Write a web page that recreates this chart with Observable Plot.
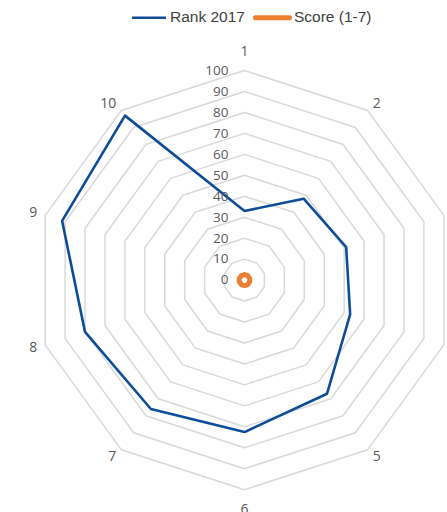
<!DOCTYPE html>
<html>
<head>
<meta charset="utf-8">
<script src="https://cdn.jsdelivr.net/npm/d3@7"></script>
<script src="https://cdn.jsdelivr.net/npm/@observablehq/plot@0.6"></script>
<style>
  html, body { margin: 0; padding: 0; background: #fff; overflow: hidden; }
  #wrap { width: 447px; height: 512px; position: relative; }
  #legend { position: relative; height: 34px; width: 447px; font-family: "Liberation Sans", Arial, sans-serif; font-size: 15.5px; color: #404040; }
  #legend .sw { position: absolute; top: 0; }
  #legend .lbl { position: absolute; top: 8px; line-height: 18px; white-space: nowrap; }
</style>
</head>
<body>
<div id="wrap">
  <div id="legend">
    <svg class="sw" style="left:131px" width="36" height="34"><line x1="1" y1="17.7" x2="35" y2="17.7" stroke="#0d4c97" stroke-width="2.4"/></svg>
    <span class="lbl" style="left:170px">Rank 2017</span>
    <svg class="sw" style="left:252px" width="42" height="34"><line x1="3.5" y1="17.7" x2="37.5" y2="17.7" stroke="#ED7D31" stroke-width="5" stroke-linecap="round"/></svg>
    <span class="lbl" style="left:294px">Score (1-7)</span>
  </div>
  <div id="chart"></div>
</div>
<script>
// ---- data ----
const categories = ["1", "2", "3", "4", "5", "6", "7", "8", "9", "10"];
const rank2017 = [33, 48, 51, 53, 67, 72.5, 76, 80, 91.5, 97];
const score = [2.6, 2.6, 2.6, 2.6, 2.6, 2.6, 2.6, 2.6, 2.6, 2.6];
const ringTicks = [0, 10, 20, 30, 40, 50, 60, 70, 80, 90, 100];
const ringLabels = ["0", "10", "20", "30", "40", "50", "60", "70", "80", "90", "100"];

// ---- layout ----
const W = 447, H = 478;
const cx = 244, cy = 245.6, R = 209.6;
const k = R / 100;
const n = categories.length;
const ang = i => i * 2 * Math.PI / n;
const px = (v, i) => v * Math.sin(ang(i));
const py = (v, i) => v * Math.cos(ang(i));

function closed(values, key) {
  const p = values.map((v, i) => ({i, v, key}));
  p.push({...p[0]});
  return p;
}

const rings = ringTicks.filter(t => t > 0).flatMap(t => closed(categories.map(() => t), t));
const rankPts = closed(rank2017, "rank");
const scorePts = closed(score, "score");
const labelR = 104;
const labelPts = categories.map((c, i) => ({c, i, s: Math.sin(ang(i)), co: Math.cos(ang(i))}));
const lx = d => px(labelR, d.i), ly = d => py(labelR, d.i);
const labelStyle = {x: lx, y: ly, text: "c", fontSize: 14, fill: "#595959"};

const chart = Plot.plot({
  width: W,
  height: H,
  margin: 0,
  x: {domain: [-cx / k, (W - cx) / k], range: [0, W], axis: null},
  y: {domain: [-(H - cy) / k, cy / k], range: [H, 0], axis: null},
  style: {fontFamily: "'Open Sans', sans-serif", background: "transparent", overflow: "hidden"},
  marks: [
    Plot.line(rings, {x: d => px(d.v, d.i), y: d => py(d.v, d.i), z: "key", stroke: "#d9d9d9", strokeWidth: 1.5}),
    Plot.line(rankPts, {x: d => px(d.v, d.i), y: d => py(d.v, d.i), stroke: "#0d4c97", strokeWidth: 2.6, strokeLinejoin: "round"}),
    Plot.line(scorePts, {x: d => px(d.v, d.i), y: d => py(d.v, d.i), stroke: "#ED7D31", strokeWidth: 5, strokeLinejoin: "round"}),
    Plot.text(ringTicks, {x: 0, y: d => d, text: (d, i) => ringLabels[i], dx: -16, textAnchor: "end", fontSize: 13.5, fill: "#595959"}),
    Plot.text(labelPts, {...labelStyle, filter: d => d.s > 0.1, textAnchor: "start"}),
    Plot.text(labelPts, {...labelStyle, filter: d => d.s < -0.1, textAnchor: "end"}),
    Plot.text(labelPts, {...labelStyle, filter: d => Math.abs(d.s) <= 0.1 && d.co > 0, textAnchor: "middle", dy: -11}),
    Plot.text(labelPts, {...labelStyle, filter: d => Math.abs(d.s) <= 0.1 && d.co < 0, textAnchor: "middle", dy: 11})
  ]
});
document.getElementById("chart").appendChild(chart);
</script>
</body>
</html>
